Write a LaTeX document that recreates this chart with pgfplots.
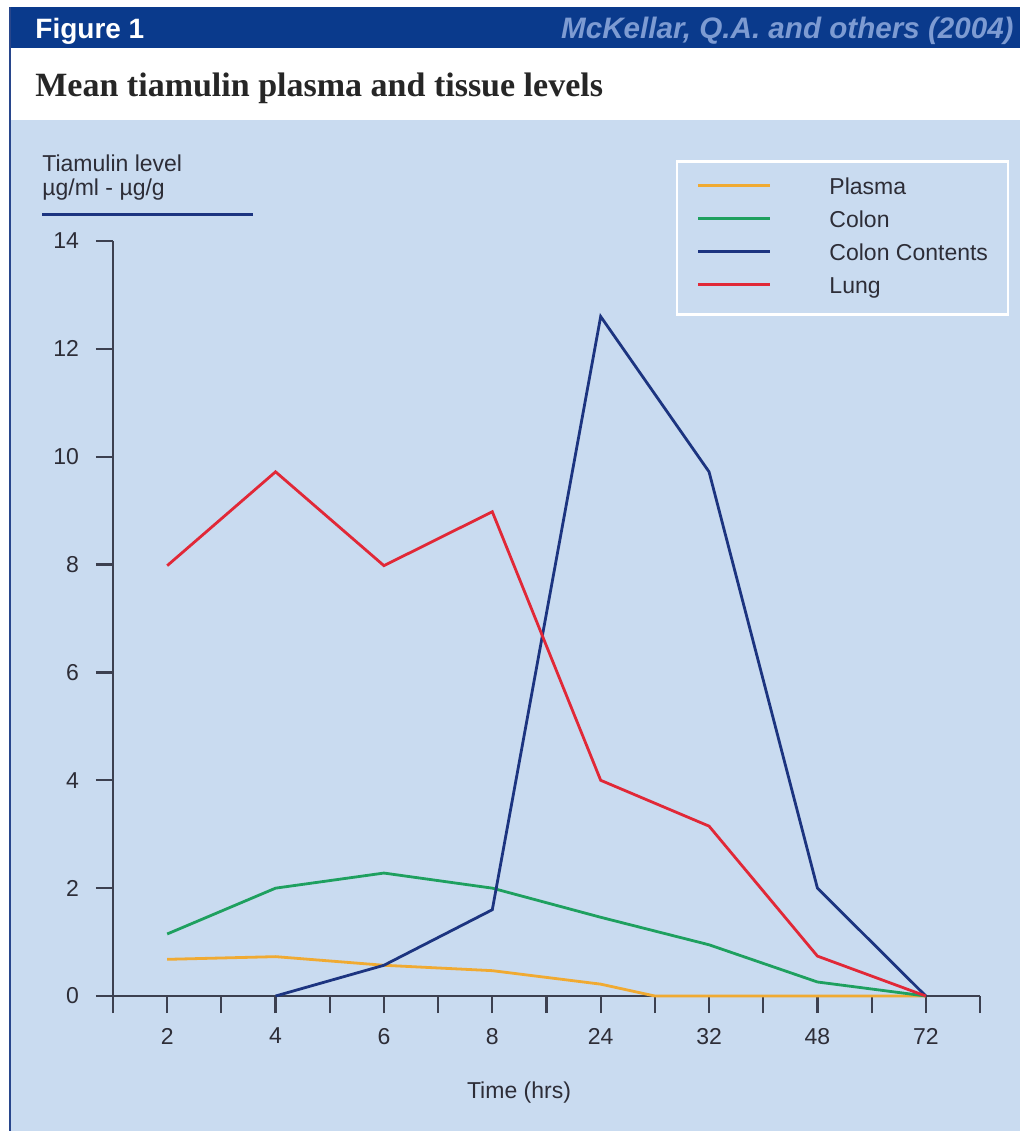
\documentclass[border=0pt]{standalone}
\usepackage{pgfplots}
\pgfplotsset{compat=1.18}
\usepackage{fontspec}
\setmainfont{Liberation Sans}
\newfontfamily\seriffont{Liberation Serif}
\definecolor{hdr}{RGB}{10,58,140}
\definecolor{hdrtxt}{RGB}{125,155,210}
\definecolor{panel}{RGB}{201,219,240}
\definecolor{border}{RGB}{40,70,140}
\definecolor{axcol}{RGB}{60,64,80}
\definecolor{txt}{RGB}{45,45,55}
\definecolor{cplasma}{RGB}{240,170,50}
\definecolor{ccolon}{RGB}{30,160,95}
\definecolor{ccont}{RGB}{28,52,128}
\definecolor{clung}{RGB}{225,40,55}
\begin{document}
\begin{tikzpicture}
\begin{scope}[x=0.5pt,y=-0.5pt]
\fill[white] (0,0) rectangle (1020,1131);
\fill[hdr] (9,7) rectangle (1020,48);
\fill[panel] (11,120) rectangle (1020,1131);
\draw[border, line width=1.2pt] (10,7) -- (10,1131);
\node[anchor=base west, inner sep=0pt, text=white, font=\bfseries\fontsize{14}{16}\selectfont] at (35,38) {Figure 1};
\node[anchor=base east, inner sep=0pt, text=hdrtxt, font=\bfseries\itshape\fontsize{14.8}{16}\selectfont] at (1014,38) {McKellar, Q.A. and others (2004)};
\node[anchor=base west, inner sep=0pt, text=black!85, font=\seriffont\bfseries\fontsize{17}{19}\selectfont] at (35,96) {Mean tiamulin plasma and tissue levels};
\node[anchor=base west, inner sep=0pt, text=txt, font=\fontsize{11.5}{13}\selectfont] at (42,171) {Tiamulin level};
\node[anchor=base west, inner sep=0pt, text=txt, font=\fontsize{11.5}{13}\selectfont] at (42,195) {µg/ml - µg/g};
\draw[ccont, line width=1.5pt] (42,214) -- (253,214);
\node[text=txt, inner sep=0pt, font=\fontsize{11.5}{13}\selectfont] at (519,1093) {Time (hrs)};
\end{scope}
\begin{axis}[
  at={(56.5pt,-498pt)}, anchor=south west,
  scale only axis, width=433.5pt, height=377.5pt,
  xmin=-0.5, xmax=7.5, ymin=0, ymax=14, clip=false,
  axis x line=bottom, axis y line=left,
  axis line style={axcol, line width=1.1pt, -},
  xtick={0,...,7}, xticklabels={2,4,6,8,24,32,48,72},
  minor xtick={-0.5,0.5,...,7.5},
  ytick={0,2,...,14},
  tick align=outside, major tick length=8.5pt, minor tick length=8.5pt,
  tick style={axcol, line width=1.1pt},
  every minor tick/.style={axcol, line width=1.1pt},
  ticklabel style={font=\fontsize{11.5}{13}\selectfont, text=txt},
  /pgf/number format/assume math mode=true,
  yticklabel style={xshift=-5pt},
  xticklabel style={yshift=-4pt},
  legend style={at={(0.649,1.107)}, anchor=north west, draw=white, line width=1.2pt, fill=none,
    inner xsep=10pt, inner ysep=8pt, row sep=5.5pt,
    font=\fontsize{11.5}{13}\selectfont, text=txt,
    nodes={inner sep=0pt, text height=8.5pt, text depth=2.5pt},
    /tikz/every odd column/.append style={column sep=29pt}},
  legend cell align=left,
  legend image code/.code={\draw[#1, line width=1.3pt] (0pt,1.5pt) -- (36pt,1.5pt);},
]
\addplot[cplasma, line width=1.4pt] coordinates {(0,0.68) (1,0.73) (2,0.57) (3,0.47) (4,0.22) (4.5,0) (5,0) (6,0) (7,0)};
\addlegendentry{Plasma}
\addplot[ccolon, line width=1.4pt] coordinates {(0,1.15) (1,2.0) (2,2.28) (3,2.0) (4,1.46) (5,0.95) (6,0.26) (7,0)};
\addlegendentry{Colon}
\addplot[ccont, line width=1.4pt] coordinates {(1,0) (2,0.57) (3,1.6) (4,12.6) (5,9.72) (6,2.0) (7,0)};
\addlegendentry{Colon Contents}
\addplot[clung, line width=1.4pt] coordinates {(0,7.98) (1,9.72) (2,7.98) (3,8.98) (4,4.0) (5,3.15) (6,0.74) (7,0)};
\addlegendentry{Lung}
\end{axis}
\pgfresetboundingbox
\useasboundingbox (0pt,0pt) rectangle (510pt,-565.5pt);
\end{tikzpicture}
\end{document}
